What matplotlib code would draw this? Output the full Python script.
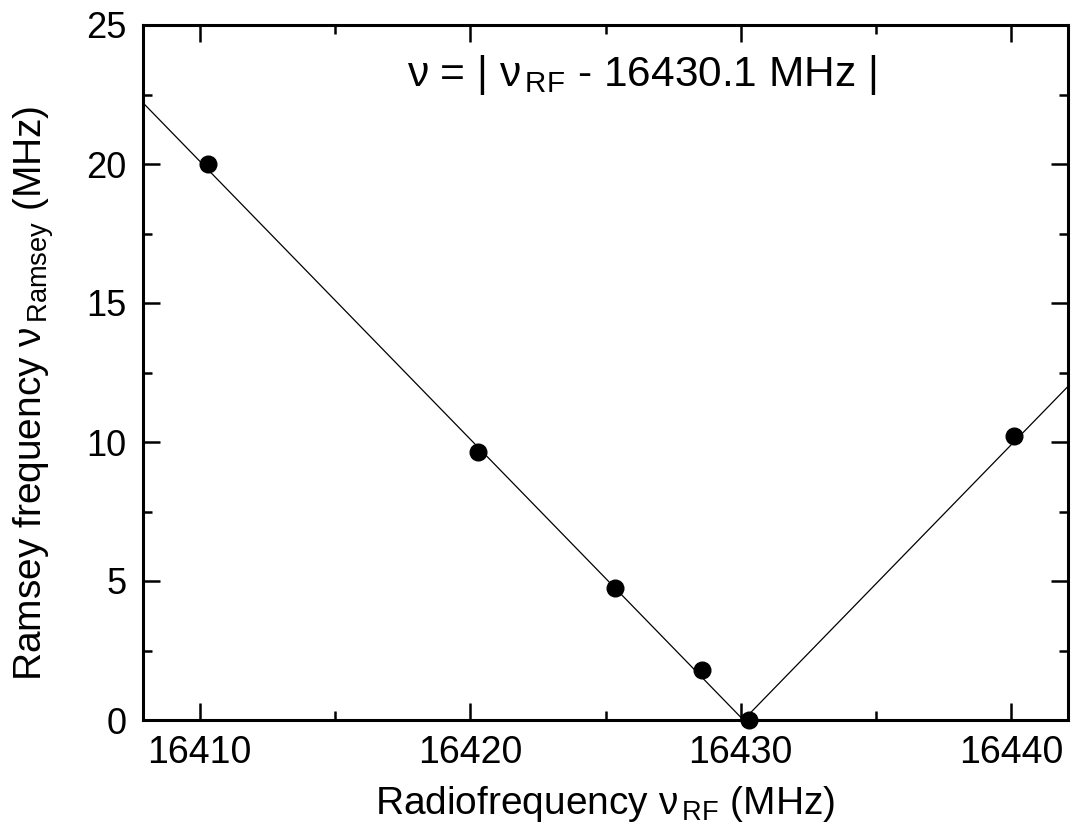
import matplotlib
matplotlib.use("Agg")
import matplotlib.pyplot as plt
from matplotlib.ticker import MultipleLocator

plt.rcParams['font.family'] = ['Liberation Sans', 'DejaVu Sans']
plt.rcParams['mathtext.fontset'] = 'custom'
plt.rcParams['mathtext.rm'] = 'Liberation Sans'
plt.rcParams['mathtext.it'] = 'Liberation Sans'

# data points
rf_freq = [16410.3, 16420.3, 16425.35, 16428.55, 16430.3, 16440.1]
ramsey_freq = [20.0, 9.65, 4.75, 1.8, 0.0, 10.2]

# fitted V-shaped line: nu = |nu_RF - 16430.1 MHz|
fit_x = [16407.9, 16430.1, 16442.1]
fit_y = [22.2, 0.0, 12.0]

xticks = [16410, 16420, 16430, 16440]
yticks = [0, 5, 10, 15, 20, 25]

fig = plt.figure(figsize=(10.72, 8.39), dpi=100)
ax = fig.add_axes([143/1072, 1 - 720/839, (1068-143)/1072, (720-25)/839])

ax.plot(fit_x, fit_y, color='black', lw=0.9, zorder=2)
ax.plot(rf_freq, ramsey_freq, 'o', color='black', ms=12, zorder=3, clip_on=False)

ax.set_xlim(16407.9, 16442.1)
ax.set_ylim(0, 25)
ax.set_xticks(xticks)
ax.set_yticks(yticks)
ax.xaxis.set_minor_locator(MultipleLocator(5))
ax.yaxis.set_minor_locator(MultipleLocator(2.5))
ax.tick_params(which='both', direction='in', top=True, right=True, width=1.8)
ax.tick_params(which='major', length=12)
ax.tick_params(which='minor', length=6.5)
ax.tick_params(axis='x', which='major', labelsize=27, pad=11)
ax.tick_params(axis='y', which='major', labelsize=26, pad=12)
for s in ax.spines.values():
    s.set_linewidth(2.2)

ax.set_xlabel(r'Radiofrequency ν$_{\,\mathrm{RF}}$ (MHz)', fontsize=28, labelpad=9)
ax.set_ylabel(r'Ramsey frequency ν$_{\,\mathrm{Ramsey}}$ (MHz)', fontsize=28)
ax.yaxis.set_label_coords(-0.094, 0.47)

ax.text(0.285, (720-86)/695, r'ν = | ν$_{\,\mathrm{RF}}$ - 16430.1 MHz |', transform=ax.transAxes,
        fontsize=30.5, ha='left', va='baseline')

fig.savefig('out.png', dpi=100)
